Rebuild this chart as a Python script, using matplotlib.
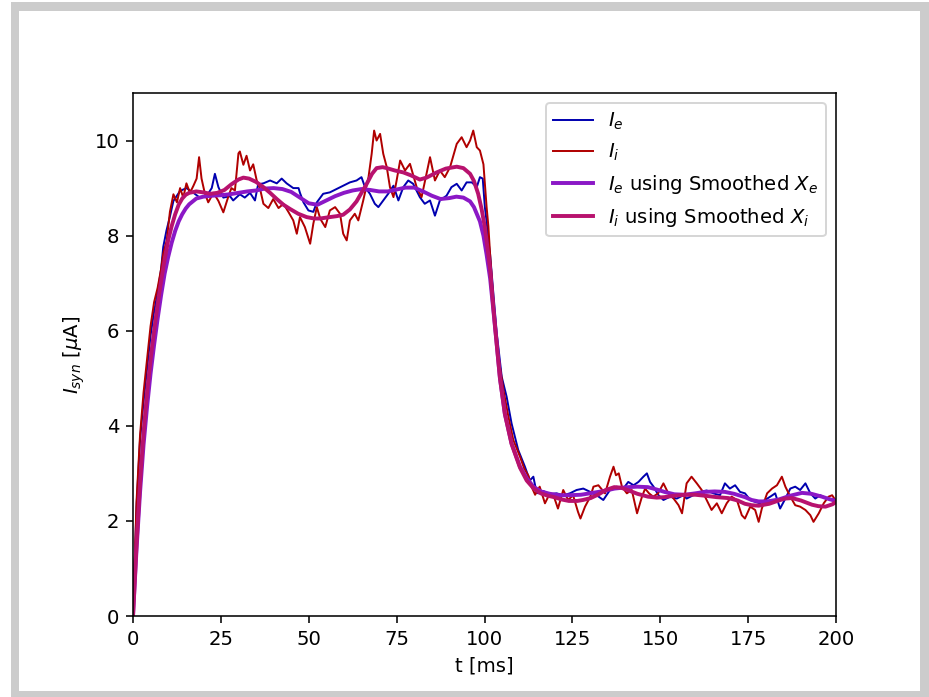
import matplotlib
matplotlib.use("Agg")
import matplotlib.pyplot as plt
from matplotlib.patches import Rectangle

# ---- data (t in ms, current in uA) ----
t_ie = [0, 1, 2, 3, 4, 5, 6, 7, 8, 8.6, 9.5, 10.5, 11.5, 13.4, 15.2, 17.2, 19, 20.9, 22.4, 23.3,
        24.3, 25.7, 27.6, 28.5, 30.4, 31.8, 33.3, 34.7, 35.6, 37.1, 39, 40.9, 42.3, 43.7, 45.6,
        47.1, 47.5, 48.5, 49.9, 51.3, 52.3, 54.1, 56, 57.9, 59.8, 61.7, 63.6, 65, 66, 67.4, 68.8,
        69.8, 71.2, 72.6, 74.1, 75.5, 76.9, 78.3, 79.7, 81.6, 83, 84.5, 85.9, 87.3, 89.2, 90.6,
        92.1, 93.5, 94.9, 96.4, 97.8, 98.7, 99.5, 100.1, 100.6, 101.1, 101.6, 102.5, 103.5, 104.9,
        106.3, 107.7, 109.6, 111.5, 112.9, 113.9, 114.8, 115.3, 116.7, 118.6, 120.5, 122.4, 124.3,
        126.2, 128.1, 130.1, 131.9, 133.8, 135.7, 137.6, 139.5, 140.9, 142.4, 143.8, 145.2, 146.2,
        147.1, 148.1, 149.5, 150.9, 152.8, 154.7, 156.6, 157.5, 159.4, 161.3, 163.2, 165.1, 167,
        168.4, 169.8, 171.3, 172.7, 174.1, 175.6, 177, 178.4, 179.8, 181.3, 182.7, 184.1, 185.6,
        187, 188.4, 189.8, 191.3, 192.7, 194.1, 195.5, 197.4, 199.8]
ie = [0, 2.3, 3.7, 4.5, 5.2, 5.9, 6.4, 6.8, 7.3, 7.76, 8.1, 8.4, 8.73, 8.94, 9.0, 8.9, 8.8, 8.83,
      9.0, 9.3, 9.02, 8.8, 8.83, 8.74, 8.87, 8.8, 8.9, 8.74, 9.08, 9.1, 9.16, 9.1, 9.2, 9.1, 9.0,
      9.0, 8.9, 8.7, 8.53, 8.5, 8.7, 8.88, 8.91, 8.98, 9.05, 9.12, 9.16, 9.23, 9.02, 8.88, 8.67,
      8.6, 8.74, 8.88, 9.05, 8.74, 9.02, 9.16, 9.09, 8.81, 8.67, 8.74, 8.42, 8.74, 8.84, 9.02,
      9.09, 8.95, 9.12, 9.12, 9.02, 9.23, 9.2, 8.6, 8.3, 7.9, 7.6, 6.8, 5.94, 5.03,
      4.61, 4.05, 3.49, 3.14, 2.85, 2.93, 2.6, 2.58, 2.63, 2.56, 2.58, 2.54, 2.58,
      2.65, 2.68, 2.61, 2.54, 2.44, 2.65, 2.72, 2.68, 2.82, 2.75, 2.82, 2.93, 3.0,
      2.82, 2.72, 2.54, 2.44, 2.51, 2.47, 2.54, 2.47, 2.54, 2.61, 2.64, 2.58, 2.54,
      2.79, 2.68, 2.75, 2.61, 2.58, 2.44, 2.40, 2.37, 2.44, 2.51, 2.58, 2.26, 2.47,
      2.68, 2.72, 2.65, 2.79, 2.58, 2.47, 2.54, 2.47, 2.44]

t_ii = [0, 1, 2, 3, 4, 5, 6, 7, 8, 8.6, 9.6, 10.5, 11.5, 12.5, 13.4, 14.3, 15.2, 16.2, 17.2, 18.1,
        18.8, 19.5, 20.4, 21.4, 22.9, 24.3, 25.7, 27.2, 28, 29, 30, 30.4, 31.4, 32.3, 33.3, 34.2,
        35.2, 36.1, 37.1, 38.5, 39.9, 41.4, 42.8, 44.2, 45.6, 46.6, 47.5, 48.9, 50.4, 51.3, 52.3,
        53.3, 54.7, 56, 57.5, 58.9, 59.8, 60.8, 61.7, 63.1, 64.1, 65.5, 67, 67.9, 68.6, 69.3, 70.3,
        71.2, 72.2, 73.1, 74.1, 75, 76, 77.4, 78.8, 80.7, 82.1, 83.5, 84.5, 85.9, 87.3, 88.7, 90.2,
        92.1, 93.5, 94.9, 95.9, 96.8, 97.8, 98.7, 99.7, 100.1, 100.6, 101.1, 101.6, 102.5, 103,
        104.4, 105.4, 106.8, 108.2, 110.1, 111.3, 112.5, 113.5, 114.4, 115.7, 117.2, 118.6, 119.8,
        120.9, 122.4, 123.8, 125.2, 126.6, 127.3, 128.6, 130.1, 131, 132.4, 134.3, 135.7, 136.7,
        137.4, 138.2, 139.1, 140.5, 141.9, 143.4, 144.8, 145.7, 146.8, 148, 149.4, 150.9, 152.3,
        153.8, 155.2, 156.2, 157.5, 158.9, 160.4, 161.8, 163.2, 164.6, 166.1, 167.5, 168.9, 170.3,
        171.8, 173.2, 174.1, 175.6, 177, 178, 178.9, 180.4, 181.8, 183.2, 184.6, 185.6, 187, 188.4,
        189.8, 191.3, 192.7, 193.6, 195.1, 196.5, 197.9, 198.9, 199.8]
ii = [0, 2.4, 3.8, 4.7, 5.4, 6.1, 6.6, 6.9, 7.3, 7.62, 7.9, 8.5, 8.87, 8.7, 9.0, 8.8, 9.1, 8.9,
      9.05, 9.2, 9.65, 9.2, 8.9, 8.70, 8.9, 8.73, 8.49, 8.84, 9.0, 8.95, 9.73, 9.77, 9.49, 9.68,
      9.37, 9.5, 9.16, 9.0, 8.67, 8.58, 8.77, 8.58, 8.67, 8.5, 8.32, 8.04, 8.39, 8.18, 7.83, 8.25,
      8.6, 8.35, 8.18, 8.53, 8.6, 8.46, 8.04, 7.9, 8.32, 8.46, 8.32, 8.74, 9.23, 9.72, 10.21, 10.0,
      10.14, 9.72, 9.44, 9.02, 8.81, 9.16, 9.58, 9.37, 9.51, 9.02, 8.81, 9.3, 9.65, 9.16, 9.37,
      9.23, 9.44, 9.93, 10.07, 9.86, 10.0, 10.21, 9.86, 9.79, 9.5, 9.1, 8.6, 8.2, 7.6, 6.64, 5.94,
      5.24, 4.75, 4.19, 3.70, 3.35, 3.1, 2.95, 2.7, 2.55, 2.72, 2.37, 2.58, 2.5,
      2.26, 2.65, 2.44, 2.54, 2.19, 2.05, 2.30, 2.51, 2.72, 2.75, 2.58, 2.93, 3.14,
      2.96, 3.0, 2.72, 2.58, 2.65, 2.16, 2.51, 2.68, 2.58, 2.51, 2.58, 2.79, 2.58,
      2.47, 2.33, 2.16, 2.79, 2.93, 2.79, 2.65, 2.44, 2.23, 2.37, 2.16, 2.37, 2.51,
      2.44, 2.12, 2.05, 2.30, 2.23, 1.98, 2.26, 2.58, 2.68, 2.75, 2.93, 2.72, 2.51, 2.33,
      2.30, 2.23, 2.12, 1.98, 2.16, 2.37, 2.51, 2.54, 2.44]

t_xe = [0, 1, 2, 3, 4, 5, 6, 7, 8, 9, 10, 11, 12, 13, 14, 15, 16, 18, 20, 22.5, 25, 27.5, 30,
        32.5, 35, 37.5, 40, 42.5, 45, 47.5, 50, 52.5, 55, 57.5, 60, 62.5, 65, 67.5, 70, 72.5, 75,
        77.5, 80, 82.5, 85, 87.5, 90, 92, 94, 95.9, 97, 98.7, 99.7, 100.6, 101.6, 102.5, 103.5,
        104.4, 105.8, 107.7, 110.1, 112, 113.9, 116, 118.6, 121.5, 124, 127.4, 130, 134, 137,
        140.7, 143.5, 146.5, 149, 151.2, 154, 157, 160, 162.7, 165.5, 168.4, 171, 174.1, 176,
        178, 180.5, 183.7, 187, 190.3, 193, 196, 198, 200]
xe_smooth = [0, 1.4, 2.6, 3.6, 4.4, 5.1, 5.7, 6.25, 6.75, 7.2, 7.55, 7.85, 8.1, 8.3, 8.45, 8.57,
             8.66, 8.78, 8.82, 8.84, 8.85, 8.87, 8.9, 8.93, 8.95, 8.99, 9.0, 8.98, 8.92, 8.8,
             8.68, 8.65, 8.74, 8.83, 8.9, 8.95, 8.98, 8.96, 8.93, 8.93, 8.97, 9.01, 9.01, 8.93,
             8.84, 8.77, 8.79, 8.82, 8.8, 8.72, 8.6, 8.3, 8.0, 7.6, 7.1, 6.45, 5.7, 5.0, 4.25,
             3.63, 3.14, 2.9, 2.72, 2.62, 2.57, 2.54, 2.54, 2.55, 2.58, 2.63, 2.68, 2.71, 2.72,
             2.71, 2.66, 2.61, 2.56, 2.55, 2.58, 2.61, 2.62, 2.61, 2.57, 2.50, 2.44, 2.41, 2.41,
             2.45, 2.53, 2.59, 2.57, 2.51, 2.46, 2.42]

t_xi = [0, 1, 2, 3, 4, 5, 6, 7, 8, 9, 10, 11, 12, 13, 14, 15, 16, 18, 20, 22, 24, 26, 28, 30,
        31.4, 33, 35, 37.1, 39, 40.9, 42.8, 44.7, 47, 49.4, 51.5, 53.2, 56, 58, 59.8, 61.7, 63.6,
        65, 66.5, 68, 69.3, 71, 72.2, 74.5, 76.9, 79, 81.6, 83.5, 86.4, 89, 92.1, 94, 95.9, 97,
        98.2, 99.2, 100.1, 101.6, 102.5, 103.5, 104.4, 105.8, 107.7, 110.1, 112, 114, 116, 118,
        119.8, 122, 124, 126.4, 128, 130.2, 132.5, 134.5, 136.9, 138.8, 140.7, 143.5, 146.5, 149,
        151.2, 154, 157, 160, 162.7, 166, 169.4, 172, 174.1, 176, 178, 181, 183.7, 185.5, 187.5,
        190, 193.2, 195, 197, 199, 200]
xi_smooth = [0, 1.5, 2.8, 3.85, 4.7, 5.4, 6.0, 6.55, 7.05, 7.5, 7.9, 8.2, 8.45, 8.65, 8.78, 8.86,
             8.9, 8.93, 8.91, 8.88, 8.9, 8.96, 9.08, 9.18, 9.22, 9.2, 9.13, 9.02, 8.9, 8.77, 8.65,
             8.56, 8.46, 8.39, 8.36, 8.36, 8.39, 8.41, 8.44, 8.55, 8.72, 8.9, 9.09, 9.3, 9.42,
             9.44, 9.42, 9.37, 9.33, 9.27, 9.18, 9.22, 9.33, 9.41, 9.45, 9.42, 9.3, 9.15, 8.88,
             8.55, 8.18, 7.3, 6.5, 5.7, 5.0, 4.25, 3.62, 3.12, 2.85, 2.68, 2.58, 2.53, 2.50,
             2.45, 2.42, 2.42, 2.44, 2.48, 2.56, 2.65, 2.71, 2.7, 2.65, 2.57, 2.51, 2.49, 2.50,
             2.53, 2.55, 2.55, 2.53, 2.5, 2.48, 2.43, 2.36, 2.33, 2.32, 2.36, 2.43, 2.47, 2.48,
             2.43, 2.34, 2.31, 2.30, 2.35, 2.40]

DPI = 141
W, H = 929, 697

fig = plt.figure(figsize=(W / DPI, H / DPI), dpi=DPI)
# grey frame around the figure, as in the reference screenshot
fig.patches.append(Rectangle((11 / W, 0), 1 - 11 / W, 1 - 2 / H, transform=fig.transFigure,
                             facecolor="#cccccc", edgecolor="none", zorder=-2))
fig.patches.append(Rectangle((19 / W, 6 / H), 901 / W, 680 / H, transform=fig.transFigure,
                             facecolor="white", edgecolor="none", zorder=-1))

ax = fig.add_axes([133 / W, (H - 616) / H, (836 - 133) / W, (616 - 93) / H])
ax.plot(t_ie, ie, color="#0000b0", lw=1.0, label="$I_e$")
ax.plot(t_ii, ii, color="#b00000", lw=1.0, label="$I_i$")
ax.plot(t_xe, xe_smooth, color="#8b18c6", lw=2.0, label="$I_e$ using Smoothed $X_e$")
ax.plot(t_xi, xi_smooth, color="#b8126e", lw=2.0, label="$I_i$ using Smoothed $X_i$")

ax.set_xlim(0, 200)
ax.set_ylim(0, 11)
ax.set_xticks([0, 25, 50, 75, 100, 125, 150, 175, 200])
ax.set_yticks([0, 2, 4, 6, 8, 10])
ax.set_xlabel("t [ms]")
ax.set_ylabel(r"$I_{syn}$ [$\mu$A]")
ax.legend(loc="upper right")

fig.savefig("out.png", dpi=DPI)
